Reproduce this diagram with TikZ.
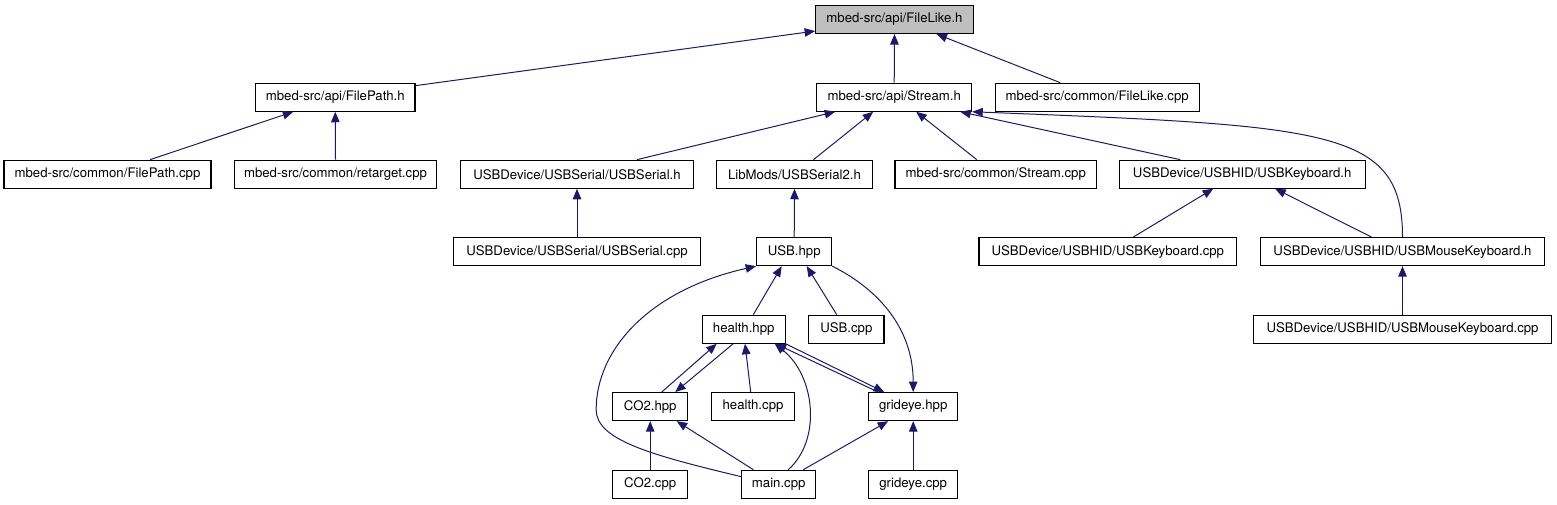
\documentclass[tikz,border=0pt]{standalone}
\usepackage{fontspec}
\setmainfont{TeX Gyre Heros}
\usetikzlibrary{arrows.meta}
\definecolor{edgeblue}{RGB}{25,25,112}
\definecolor{rootgray}{RGB}{191,191,191}

\begin{document}
\begin{tikzpicture}[
    x=1pt, y=-1pt,
    box/.style={draw=black, line width=1.1pt, fill=white, minimum height=28pt, inner xsep=2pt, inner ysep=0pt, font=\fontsize{13.2}{16}\selectfont},
    dep/.style={draw=edgeblue, line width=1pt, -{Triangle[length=10.5pt, width=8.5pt]}}
]
  \useasboundingbox (0,0) rectangle (1557,504);

  \node[box, fill=rootgray, minimum width=157.6pt] (filelike) at (894.5,19.5) {mbed-src/api/FileLike.h};

  \node[box, minimum width=159.3pt] (filepath) at (335.3,97.2) {mbed-src/api/FilePath.h};
  \node[box, minimum width=155pt] (stream) at (894.2,97.2) {mbed-src/api/Stream.h};
  \node[box, minimum width=204.3pt] (filelikecpp) at (1097.2,97.2) {mbed-src/common/FileLike.cpp};

  \node[box, minimum width=207pt] (filepathcpp) at (107.5,174.2) {mbed-src/common/FilePath.cpp};
  \node[box, minimum width=202.4pt] (retarget) at (335.5,174.2) {mbed-src/common/retarget.cpp};
  \node[box, minimum width=232.6pt] (usbserialh) at (577,174.2) {USBDevice/USBSerial/USBSerial.h};
  \node[box, minimum width=155.6pt] (usbserial2) at (794.5,174.2) {LibMods/USBSerial2.h};
  \node[box, minimum width=201.7pt] (streamcpp) at (995.8,174.2) {mbed-src/common/Stream.cpp};
  \node[box, minimum width=245.7pt] (usbkbdh) at (1242.2,174.2) {USBDevice/USBHID/USBKeyboard.h};

  \node[box, minimum width=247.4pt] (usbserialcpp) at (577,251.6) {USBDevice/USBSerial/USBSerial.cpp};
  \node[box, minimum width=75pt] (usbhpp) at (794.2,251.6) {USB.hpp};
  \node[box, minimum width=257.7pt] (usbkbdcpp) at (1107.8,251.6) {USBDevice/USBHID/USBKeyboard.cpp};
  \node[box, minimum width=283.6pt] (mousekbdh) at (1402.5,251.6) {USBDevice/USBHID/USBMouseKeyboard.h};

  \node[box, minimum width=82.7pt] (healthhpp) at (743.7,329.2) {health.hpp};
  \node[box, minimum width=75.3pt] (usbcpp) at (846.3,329.2) {USB.cpp};
  \node[box, minimum width=298.4pt] (mousekbdcpp) at (1402.5,329.2) {USBDevice/USBHID/USBMouseKeyboard.cpp};

  \node[box, minimum width=75pt] (co2hpp) at (650.2,406.6) {CO2.hpp};
  \node[box, minimum width=82.6pt] (healthcpp) at (753,406.6) {health.cpp};
  \node[box, minimum width=89pt] (grideyehpp) at (913.2,406.6) {grideye.hpp};

  \node[box, minimum width=75pt] (co2cpp) at (650.2,484.2) {CO2.cpp};
  \node[box, minimum width=74pt] (maincpp) at (778.7,484.2) {main.cpp};
  \node[box, minimum width=89pt] (grideyecpp) at (913.2,484.2) {grideye.cpp};

  \draw[dep] ([yshift=-3pt]filepath.north east) -- ([yshift=3pt]filelike.south west);
  \draw[dep] (stream.north) -- (filelike.south);
  \draw[dep] ([xshift=-37pt]filelikecpp.north) -- ([xshift=42pt]filelike.south);
  \draw[dep] ([xshift=42.5pt]filepathcpp.north) -- ([xshift=-42pt]filepath.south);
  \draw[dep] (retarget.north) -- (filepath.south);
  \draw[dep] ([xshift=60pt]usbserialh.north) -- ([xshift=-59pt]stream.south);
  \draw[dep] ([xshift=19pt]usbserial2.north) -- ([xshift=-21pt]stream.south);
  \draw[dep] ([xshift=-19pt]streamcpp.north) -- ([xshift=22pt]stream.south);
  \draw[dep] ([xshift=-62pt]usbkbdh.north) -- ([xshift=66pt]stream.south);
  \draw[dep] (mousekbdh.north) .. controls +(0,-108) and +(358,14) .. (stream.south east);
  \draw[dep] ([xshift=25.5pt]usbkbdcpp.north) -- ([xshift=-29pt]usbkbdh.south);
  \draw[dep] ([xshift=-31pt]mousekbdh.north) -- ([xshift=33pt]usbkbdh.south);
  \draw[dep] (mousekbdcpp.north) -- (mousekbdh.south);
  \draw[dep] (usbserialcpp.north) -- (usbserialh.south);
  \draw[dep] (usbhpp.north) -- (usbserial2.south);
  \draw[dep] ([xshift=9.6pt]healthhpp.north) -- ([xshift=-12.5pt]usbhpp.south);
  \draw[dep] ([xshift=-9.6pt]usbcpp.north) -- ([xshift=12.5pt]usbhpp.south);
  \draw[dep] ([yshift=-7pt]maincpp.north west) .. controls +(-92,-22) and +(0,30) .. ++(-145,-67)
    .. controls +(0,-60) and +(-107,24) .. (usbhpp.south west);
  \draw[dep] (usbhpp.south east) .. controls +(48,24) and +(0,-62) .. (grideyehpp.north);
  \draw[dep] ([xshift=11.5pt]co2hpp.north) -- ([xshift=-27pt]healthhpp.south);
  \draw[dep] ([xshift=-10.5pt]healthhpp.south) -- ([xshift=25pt]co2hpp.north);
  \draw[dep] ([xshift=-2.3pt]healthcpp.north) -- ([xshift=1.3pt]healthhpp.south);
  \draw[dep] ([xshift=9.6pt]maincpp.north) .. controls +(33.7,-30) and +(40.3,31.7) .. ([xshift=31pt]healthhpp.south);
  \draw[dep] ([xshift=-35pt]grideyehpp.north) -- ([xshift=32pt]healthhpp.south);
  \draw[dep] (healthhpp.south east) -- ([xshift=-29pt]grideyehpp.north);
  \draw[dep] (co2cpp.north) -- (co2hpp.south);
  \draw[dep] ([xshift=-25.4pt]maincpp.north) -- ([xshift=26.5pt]co2hpp.south);
  \draw[dep] ([xshift=24.6pt]maincpp.north) -- ([xshift=-25pt]grideyehpp.south);
  \draw[dep] (grideyecpp.north) -- (grideyehpp.south);
\end{tikzpicture}
\end{document}
